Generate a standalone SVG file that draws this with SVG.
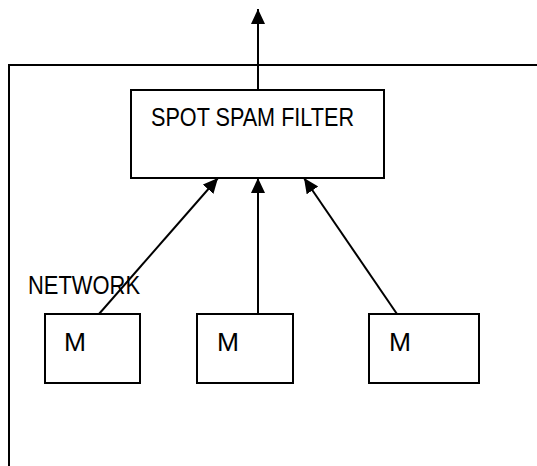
<svg xmlns="http://www.w3.org/2000/svg" width="537" height="466" viewBox="0 0 537 466">
<style>
.box{fill:#fff;stroke:#000;stroke-width:2}
.ln{fill:none;stroke:#000;stroke-width:2}
.t{font-family:"Liberation Sans",Arial,sans-serif;font-size:26px;fill:#000}
</style>
<defs>
<marker id="ah" markerUnits="userSpaceOnUse" markerWidth="16" markerHeight="16" viewBox="0 0 16 16" refX="15" refY="8" orient="auto">
<path d="M0,1 L15,8 L0,15 Z" fill="#000"/>
</marker>
</defs>
<g id="frame">
<path class="ln" d="M537,65 L9,65 L9,466"/>
</g>
<g id="connectors">
<line class="ln" x1="258" y1="90" x2="258" y2="9" marker-end="url(#ah)"/>
<line class="ln" x1="99" y1="314" x2="218" y2="178" marker-end="url(#ah)"/>
<line class="ln" x1="258" y1="314" x2="258" y2="178" marker-end="url(#ah)"/>
<line class="ln" x1="397" y1="314" x2="304" y2="178" marker-end="url(#ah)"/>
</g>
<g id="filter">
<rect class="box" x="131" y="90" width="253" height="88"/>
<text class="t" x="151" y="125.5" textLength="203" lengthAdjust="spacingAndGlyphs">SPOT SPAM FILTER</text>
</g>
<g id="network">
<text class="t" x="28" y="294" textLength="112" lengthAdjust="spacingAndGlyphs">NETWORK</text>
</g>
<g id="m1">
<rect class="box" x="45" y="314" width="95" height="69"/>
<text class="t" x="64" y="351" textLength="22" lengthAdjust="spacingAndGlyphs">M</text>
</g>
<g id="m2">
<rect class="box" x="197" y="314" width="96" height="69"/>
<text class="t" x="217" y="351" textLength="22" lengthAdjust="spacingAndGlyphs">M</text>
</g>
<g id="m3">
<rect class="box" x="369" y="314" width="110" height="69"/>
<text class="t" x="389" y="351" textLength="22" lengthAdjust="spacingAndGlyphs">M</text>
</g>
</svg>
